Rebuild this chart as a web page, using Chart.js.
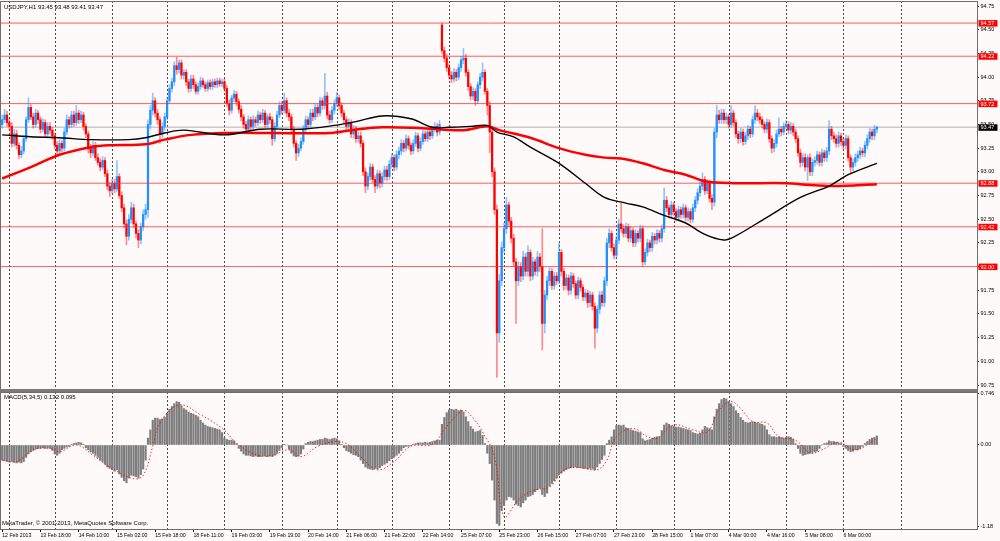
<!DOCTYPE html>
<html>
<head>
<meta charset="utf-8">
<title>USDJPY,H1</title>
<script src="https://cdn.jsdelivr.net/npm/chart.js@4.4.1/dist/chart.umd.min.js"></script>
<style>
  html, body { margin: 0; padding: 0; background: #fffafa; }
  #wrap { position: relative; width: 1000px; height: 541px; overflow: hidden; font-family: "Liberation Sans", Arial, sans-serif; }
  #priceBox { position: absolute; left: 0; top: 0; width: 1000px; height: 391px; }
  #macdBox { position: absolute; left: 0; top: 391px; width: 1000px; height: 150px; }
  .cap { position: absolute; font-size: 6px; color: #000; white-space: nowrap; line-height: 1; }
</style>
</head>
<body>
<div id="wrap">
  <div id="priceBox"><canvas id="priceChart"></canvas></div>
  <div id="macdBox"><canvas id="macdChart"></canvas></div>
  <div class="cap" style="left:4px; top:4px">USDJPY,H1 93.45 93.48 93.41 93.47</div>
  <div class="cap" style="left:4px; top:394px">MACD(5,34,5) 0.132 0.095</div>
  <div class="cap" style="left:2px; top:520px">MetaTrader, © 2001-2013, MetaQuotes Software Corp.</div>
</div>
<script>
// H1 bars, one value per bar (index 0 = first bar on screen)
const opens = [
  93.50, 93.55, 93.60, 93.52, 93.48, 93.30, 93.40, 93.28, 93.18, 93.22,
  93.35, 93.55, 93.68, 93.58, 93.50, 93.62, 93.55, 93.45, 93.52, 93.40,
  93.48, 93.44, 93.38, 93.28, 93.22, 93.30, 93.25, 93.42, 93.55, 93.50,
  93.60, 93.52, 93.62, 93.55, 93.60, 93.48, 93.40, 93.25, 93.20, 93.28,
  93.15, 93.10, 93.05, 93.12, 92.98, 92.85, 92.80, 92.88, 92.82, 92.95,
  92.75, 92.62, 92.45, 92.32, 92.50, 92.62, 92.45, 92.35, 92.28, 92.42,
  92.55, 92.60, 93.50, 93.65, 93.75, 93.62, 93.55, 93.40, 93.48, 93.58,
  93.75, 93.88, 93.95, 94.12, 94.08, 94.15, 94.02, 94.05, 93.95, 93.88,
  93.98, 93.92, 93.85, 93.90, 93.96, 93.92, 93.88, 93.94, 93.90, 93.95,
  93.92, 93.96, 93.93, 93.95, 93.88, 93.72, 93.65, 93.78, 93.82, 93.74,
  93.66, 93.58, 93.50, 93.45, 93.55, 93.48, 93.55, 93.52, 93.60, 93.55,
  93.62, 93.50, 93.58, 93.55, 93.35, 93.48, 93.60, 93.70, 93.65, 93.75,
  93.62, 93.58, 93.45, 93.30, 93.20, 93.25, 93.32, 93.45, 93.55, 93.50,
  93.62, 93.58, 93.68, 93.62, 93.75, 93.70, 93.80, 93.60, 93.55, 93.65,
  93.72, 93.78, 93.70, 93.62, 93.55, 93.48, 93.52, 93.40, 93.45, 93.35,
  93.38, 93.30, 93.00, 92.85, 92.95, 93.05, 92.92, 92.85, 92.98, 92.88,
  92.95, 93.02, 92.95, 93.08, 93.15, 93.05, 93.18, 93.22, 93.30, 93.25,
  93.35, 93.28, 93.22, 93.30, 93.38, 93.25, 93.32, 93.40, 93.35, 93.42,
  93.38, 93.45, 93.48, 93.42, 94.55, 94.28, 94.20, 94.10, 94.02, 93.98,
  94.05, 94.00, 94.10, 94.18, 94.20, 94.05, 93.90, 93.80, 93.85, 93.75,
  93.92, 94.00, 94.05, 93.85, 93.70, 93.42, 93.00, 92.60, 91.30, 91.85,
  92.20, 92.40, 92.65, 92.48, 92.30, 92.05, 91.85, 92.00, 91.90, 92.10,
  91.95, 92.15, 91.90, 92.05, 91.95, 92.10, 92.00, 91.40, 91.70, 91.85,
  91.95, 91.80, 91.90, 91.85, 92.15, 91.95, 91.80, 91.88, 91.75, 91.90,
  91.82, 91.70, 91.85, 91.78, 91.68, 91.72, 91.62, 91.70, 91.58, 91.35,
  91.55, 91.70, 91.62, 91.85, 92.25, 92.35, 92.20, 92.12, 92.28, 92.45,
  92.40, 92.35, 92.42, 92.30, 92.38, 92.25, 92.35, 92.30, 92.40, 92.05,
  92.15, 92.25, 92.20, 92.32, 92.28, 92.35, 92.30, 92.40, 92.70, 92.62,
  92.55, 92.65, 92.58, 92.52, 92.60, 92.55, 92.62, 92.52, 92.58, 92.50,
  92.62, 92.70, 92.78, 92.85, 92.92, 92.80, 92.88, 92.72, 92.68, 93.42,
  93.60, 93.55, 93.62, 93.55, 93.58, 93.50, 93.62, 93.52, 93.40, 93.35,
  93.42, 93.32, 93.38, 93.45, 93.40, 93.55, 93.62, 93.58, 93.55, 93.50,
  93.45, 93.52, 93.35, 93.25, 93.30, 93.40, 93.45, 93.42, 93.48, 93.50,
  93.44, 93.48, 93.42, 93.35, 93.20, 93.10, 93.15, 93.05, 93.15, 93.00,
  93.10, 93.12, 93.18, 93.10, 93.20, 93.15, 93.22, 93.45, 93.38, 93.35,
  93.30, 93.38, 93.32, 93.28, 93.35, 93.15, 93.05, 93.10, 93.15, 93.18,
  93.22, 93.20, 93.28, 93.35, 93.42, 93.38, 93.45
];
const highs = [
  93.60, 93.66, 93.64, 93.56, 93.52, 93.45, 93.44, 93.31, 93.27, 93.38,
  93.58, 93.78, 93.71, 93.62, 93.66, 93.65, 93.58, 93.56, 93.55, 93.52,
  93.52, 93.47, 93.41, 93.32, 93.34, 93.33, 93.46, 93.60, 93.58, 93.64,
  93.64, 93.70, 93.65, 93.64, 93.63, 93.51, 93.43, 93.29, 93.32, 93.31,
  93.19, 93.14, 93.16, 93.15, 93.02, 92.89, 92.92, 92.92, 93.12, 92.98,
  92.79, 92.66, 92.49, 92.55, 92.68, 92.66, 92.48, 92.39, 92.46, 92.60,
  92.66, 93.55, 93.70, 93.83, 93.78, 93.66, 93.58, 93.52, 93.62, 93.78,
  93.92, 93.99, 94.16, 94.21, 94.18, 94.18, 94.08, 94.08, 93.98, 94.02,
  94.02, 93.95, 93.94, 94.00, 93.99, 93.95, 93.97, 93.97, 93.98, 93.98,
  93.99, 93.99, 93.98, 93.98, 93.91, 93.76, 93.81, 93.86, 93.85, 93.77,
  93.70, 93.61, 93.53, 93.59, 93.58, 93.59, 93.58, 93.64, 93.63, 93.66,
  93.65, 93.61, 93.62, 93.58, 93.52, 93.64, 93.74, 93.74, 93.83, 93.78,
  93.66, 93.61, 93.48, 93.33, 93.29, 93.36, 93.49, 93.59, 93.58, 93.66,
  93.66, 93.72, 93.71, 93.79, 93.78, 94.04, 93.84, 93.64, 93.69, 93.76,
  93.84, 93.81, 93.73, 93.65, 93.58, 93.56, 93.55, 93.49, 93.48, 93.42,
  93.42, 93.33, 93.04, 92.99, 93.09, 93.08, 92.96, 93.02, 93.01, 92.99,
  93.06, 93.06, 93.12, 93.19, 93.18, 93.22, 93.26, 93.34, 93.33, 93.39,
  93.38, 93.31, 93.34, 93.42, 93.41, 93.36, 93.44, 93.43, 93.46, 93.45,
  93.48, 93.52, 93.51, 93.54, 94.57, 94.32, 94.24, 94.14, 94.06, 94.09,
  94.08, 94.14, 94.22, 94.30, 94.24, 94.08, 93.93, 93.89, 93.88, 93.95,
  94.04, 94.15, 94.08, 93.88, 93.74, 93.45, 93.04, 92.65, 91.92, 92.26,
  92.46, 92.73, 92.68, 92.52, 92.34, 92.09, 92.05, 92.04, 92.16, 92.14,
  92.22, 92.18, 92.10, 92.08, 92.16, 92.14, 92.40, 91.75, 91.90, 91.99,
  91.98, 91.94, 91.94, 92.25, 92.18, 91.98, 91.92, 91.91, 91.94, 91.93,
  91.85, 91.89, 91.88, 91.81, 91.76, 91.75, 91.74, 91.73, 91.62, 91.59,
  91.74, 91.74, 91.89, 92.30, 92.40, 92.38, 92.24, 92.32, 92.50, 92.67,
  92.44, 92.46, 92.45, 92.42, 92.41, 92.39, 92.38, 92.44, 92.43, 92.19,
  92.29, 92.28, 92.36, 92.35, 92.39, 92.38, 92.44, 92.83, 92.74, 92.65,
  92.69, 92.68, 92.61, 92.64, 92.63, 92.66, 92.65, 92.62, 92.61, 92.66,
  92.74, 92.82, 92.89, 92.99, 92.95, 92.92, 92.91, 92.76, 93.46, 93.70,
  93.65, 93.66, 93.66, 93.62, 93.61, 93.70, 93.65, 93.55, 93.43, 93.46,
  93.45, 93.42, 93.49, 93.48, 93.59, 93.70, 93.66, 93.62, 93.58, 93.53,
  93.56, 93.55, 93.38, 93.34, 93.44, 93.57, 93.48, 93.52, 93.54, 93.53,
  93.52, 93.51, 93.45, 93.38, 93.24, 93.19, 93.19, 93.18, 93.19, 93.14,
  93.16, 93.22, 93.21, 93.24, 93.23, 93.26, 93.54, 93.48, 93.42, 93.39,
  93.42, 93.41, 93.35, 93.39, 93.38, 93.18, 93.14, 93.19, 93.22, 93.26,
  93.25, 93.32, 93.39, 93.46, 93.45, 93.49, 93.48
];
const lows = [
  93.46, 93.52, 93.48, 93.44, 93.26, 93.27, 93.24, 93.14, 93.15, 93.19,
  93.32, 93.52, 93.55, 93.46, 93.47, 93.51, 93.41, 93.42, 93.37, 93.36,
  93.40, 93.34, 93.24, 93.17, 93.19, 93.21, 93.22, 93.39, 93.46, 93.47,
  93.48, 93.49, 93.51, 93.52, 93.44, 93.36, 93.20, 93.15, 93.17, 93.12,
  93.07, 93.01, 93.02, 92.95, 92.81, 92.74, 92.77, 92.78, 92.79, 92.72,
  92.58, 92.41, 92.23, 92.28, 92.46, 92.41, 92.30, 92.20, 92.24, 92.38,
  92.50, 92.52, 93.45, 93.60, 93.58, 93.50, 93.30, 93.36, 93.44, 93.55,
  93.72, 93.84, 93.91, 94.03, 94.04, 93.98, 93.98, 93.91, 93.84, 93.85,
  93.88, 93.82, 93.82, 93.87, 93.89, 93.85, 93.85, 93.87, 93.87, 93.89,
  93.89, 93.90, 93.90, 93.85, 93.69, 93.60, 93.62, 93.74, 93.70, 93.62,
  93.54, 93.46, 93.40, 93.42, 93.44, 93.45, 93.48, 93.49, 93.51, 93.52,
  93.47, 93.47, 93.51, 93.28, 93.32, 93.45, 93.57, 93.61, 93.62, 93.58,
  93.54, 93.41, 93.26, 93.12, 93.16, 93.22, 93.29, 93.41, 93.46, 93.47,
  93.54, 93.55, 93.58, 93.59, 93.66, 93.66, 93.56, 93.51, 93.52, 93.61,
  93.69, 93.66, 93.58, 93.51, 93.44, 93.45, 93.36, 93.36, 93.31, 93.31,
  93.26, 92.96, 92.78, 92.81, 92.91, 92.88, 92.78, 92.82, 92.83, 92.84,
  92.91, 92.91, 92.92, 93.04, 93.01, 93.02, 93.14, 93.18, 93.21, 93.22,
  93.24, 93.18, 93.19, 93.27, 93.21, 93.22, 93.29, 93.32, 93.32, 93.34,
  93.35, 93.42, 93.38, 93.39, 94.25, 94.16, 94.06, 93.98, 93.94, 93.95,
  93.96, 93.97, 94.06, 94.14, 94.01, 93.86, 93.76, 93.76, 93.70, 93.72,
  93.88, 93.96, 93.82, 93.60, 93.20, 92.95, 92.55, 90.83, 91.20, 91.80,
  92.15, 92.35, 92.42, 92.25, 92.00, 91.40, 91.80, 91.84, 91.86, 91.90,
  91.90, 91.85, 91.86, 91.91, 91.90, 91.95, 91.12, 91.30, 91.65, 91.80,
  91.76, 91.76, 91.81, 91.82, 91.90, 91.75, 91.76, 91.70, 91.71, 91.78,
  91.66, 91.66, 91.74, 91.64, 91.64, 91.57, 91.58, 91.54, 91.14, 91.30,
  91.50, 91.58, 91.58, 91.80, 92.20, 92.16, 92.08, 92.08, 92.24, 92.36,
  92.31, 92.31, 92.26, 92.26, 92.21, 92.21, 92.26, 92.26, 92.00, 92.02,
  92.11, 92.16, 92.16, 92.24, 92.24, 92.26, 92.26, 92.36, 92.58, 92.51,
  92.51, 92.54, 92.48, 92.48, 92.51, 92.51, 92.48, 92.48, 92.46, 92.47,
  92.58, 92.66, 92.74, 92.81, 92.76, 92.77, 92.68, 92.60, 92.64, 93.36,
  93.51, 93.51, 93.51, 93.51, 93.46, 93.47, 93.48, 93.36, 93.30, 93.31,
  93.28, 93.29, 93.34, 93.36, 93.37, 93.51, 93.54, 93.51, 93.46, 93.41,
  93.41, 93.31, 93.20, 93.21, 93.26, 93.37, 93.38, 93.39, 93.45, 93.40,
  93.40, 93.38, 93.31, 93.16, 93.05, 93.06, 93.01, 92.91, 92.96, 92.96,
  93.06, 93.08, 93.06, 93.06, 93.11, 93.11, 93.18, 93.34, 93.31, 93.26,
  93.26, 93.28, 93.24, 93.24, 93.11, 92.99, 93.01, 93.06, 93.11, 93.14,
  93.16, 93.16, 93.24, 93.31, 93.34, 93.34, 93.41
];
const closes = [
  93.55, 93.60, 93.52, 93.48, 93.30, 93.40, 93.28, 93.18, 93.22, 93.35,
  93.55, 93.68, 93.58, 93.50, 93.62, 93.55, 93.45, 93.52, 93.40, 93.48,
  93.44, 93.38, 93.28, 93.22, 93.30, 93.25, 93.42, 93.55, 93.50, 93.60,
  93.52, 93.62, 93.55, 93.60, 93.48, 93.40, 93.25, 93.20, 93.28, 93.15,
  93.10, 93.05, 93.12, 92.98, 92.85, 92.80, 92.88, 92.82, 92.95, 92.75,
  92.62, 92.45, 92.32, 92.50, 92.62, 92.45, 92.35, 92.28, 92.42, 92.55,
  92.60, 93.50, 93.65, 93.75, 93.62, 93.55, 93.40, 93.48, 93.58, 93.75,
  93.88, 93.95, 94.12, 94.08, 94.15, 94.02, 94.05, 93.95, 93.88, 93.98,
  93.92, 93.85, 93.90, 93.96, 93.92, 93.88, 93.94, 93.90, 93.95, 93.92,
  93.96, 93.93, 93.95, 93.88, 93.72, 93.65, 93.78, 93.82, 93.74, 93.66,
  93.58, 93.50, 93.45, 93.55, 93.48, 93.55, 93.52, 93.60, 93.55, 93.62,
  93.50, 93.58, 93.55, 93.35, 93.48, 93.60, 93.70, 93.65, 93.75, 93.62,
  93.58, 93.45, 93.30, 93.20, 93.25, 93.32, 93.45, 93.55, 93.50, 93.62,
  93.58, 93.68, 93.62, 93.75, 93.70, 93.80, 93.60, 93.55, 93.65, 93.72,
  93.78, 93.70, 93.62, 93.55, 93.48, 93.52, 93.40, 93.45, 93.35, 93.38,
  93.30, 93.00, 92.85, 92.95, 93.05, 92.92, 92.85, 92.98, 92.88, 92.95,
  93.02, 92.95, 93.08, 93.15, 93.05, 93.18, 93.22, 93.30, 93.25, 93.35,
  93.28, 93.22, 93.30, 93.38, 93.25, 93.32, 93.40, 93.35, 93.42, 93.38,
  93.45, 93.48, 93.42, 93.50, 94.28, 94.20, 94.10, 94.02, 93.98, 94.05,
  94.00, 94.10, 94.18, 94.20, 94.05, 93.90, 93.80, 93.85, 93.75, 93.92,
  94.00, 94.05, 93.85, 93.70, 93.42, 93.00, 92.60, 91.30, 91.85, 92.20,
  92.40, 92.65, 92.48, 92.30, 92.05, 91.85, 92.00, 91.90, 92.10, 91.95,
  92.15, 91.90, 92.05, 91.95, 92.10, 92.00, 91.40, 91.70, 91.85, 91.95,
  91.80, 91.90, 91.85, 92.15, 91.95, 91.80, 91.88, 91.75, 91.90, 91.82,
  91.70, 91.85, 91.78, 91.68, 91.72, 91.62, 91.70, 91.58, 91.35, 91.55,
  91.70, 91.62, 91.85, 92.25, 92.35, 92.20, 92.12, 92.28, 92.45, 92.40,
  92.35, 92.42, 92.30, 92.38, 92.25, 92.35, 92.30, 92.40, 92.05, 92.15,
  92.25, 92.20, 92.32, 92.28, 92.35, 92.30, 92.40, 92.70, 92.62, 92.55,
  92.65, 92.58, 92.52, 92.60, 92.55, 92.62, 92.52, 92.58, 92.50, 92.62,
  92.70, 92.78, 92.85, 92.92, 92.80, 92.88, 92.72, 92.68, 93.42, 93.60,
  93.55, 93.62, 93.55, 93.58, 93.50, 93.62, 93.52, 93.40, 93.35, 93.42,
  93.32, 93.38, 93.45, 93.40, 93.55, 93.62, 93.58, 93.55, 93.50, 93.45,
  93.52, 93.35, 93.25, 93.30, 93.40, 93.45, 93.42, 93.48, 93.50, 93.44,
  93.48, 93.42, 93.35, 93.20, 93.10, 93.15, 93.05, 93.15, 93.00, 93.10,
  93.12, 93.18, 93.10, 93.20, 93.15, 93.22, 93.45, 93.38, 93.35, 93.30,
  93.38, 93.32, 93.28, 93.35, 93.15, 93.05, 93.10, 93.15, 93.18, 93.22,
  93.20, 93.28, 93.35, 93.42, 93.38, 93.45, 93.47
];

// moving averages, read at sample bars
const maBlackBars = [0, 12, 24, 37, 53, 60, 68, 76, 93, 108, 125, 139, 148, 159, 171, 180, 187, 196, 203, 207, 214, 221, 233, 244, 252, 261, 268, 277, 286, 294, 302, 306, 320, 334, 346, 354, 366];
const maBlackVals = [93.39, 93.37, 93.36, 93.34, 93.34, 93.36, 93.41, 93.44, 93.39, 93.45, 93.45, 93.49, 93.53, 93.59, 93.56, 93.47, 93.47, 93.48, 93.49, 93.42, 93.37, 93.26, 93.09, 92.88, 92.73, 92.67, 92.63, 92.54, 92.46, 92.34, 92.28, 92.31, 92.52, 92.73, 92.85, 92.97, 93.09];
const maRedBars = [0, 12, 24, 37, 45, 60, 68, 79, 95, 112, 137, 146, 159, 176, 193, 203, 208, 221, 233, 244, 252, 259, 268, 277, 286, 294, 306, 328, 338, 348, 366];
const maRedVals = [92.93, 93.05, 93.18, 93.26, 93.28, 93.29, 93.34, 93.39, 93.41, 93.41, 93.41, 93.44, 93.47, 93.46, 93.44, 93.48, 93.44, 93.36, 93.25, 93.18, 93.15, 93.14, 93.09, 93.02, 92.97, 92.90, 92.88, 92.88, 92.86, 92.85, 92.87];

// horizontal levels and last price
const levels = [94.57, 94.22, 93.72, 92.88, 92.42, 92.00];
const lastPrice = 93.47;

// MACD(5,34,5) histogram per bar
const macd = [
  -0.22, -0.23, -0.24, -0.25, -0.24, -0.25, -0.26, -0.25, -0.26, -0.24,
  -0.18, -0.13, -0.10, -0.08, -0.06, -0.05, -0.05, -0.04, -0.05, -0.04,
  -0.05, -0.08, -0.13, -0.15, -0.12, -0.07, -0.05, -0.03, -0.02, 0.01,
  0.02, 0.03, 0.04, 0.03, 0.01, -0.04, -0.07, -0.10, -0.12, -0.15,
  -0.18, -0.22, -0.24, -0.28, -0.32, -0.34, -0.36, -0.38, -0.36, -0.42,
  -0.47, -0.52, -0.55, -0.48, -0.44, -0.45, -0.46, -0.48, -0.43, -0.35,
  -0.22, 0.10, 0.22, 0.36, 0.39, 0.39, 0.37, 0.38, 0.40, 0.46,
  0.52, 0.56, 0.60, 0.63, 0.62, 0.57, 0.53, 0.51, 0.48, 0.46,
  0.45, 0.43, 0.41, 0.36, 0.32, 0.29, 0.27, 0.26, 0.25, 0.24,
  0.23, 0.22, 0.18, 0.10, 0.08, 0.07, 0.07, 0.06, 0.02, -0.05,
  -0.09, -0.13, -0.15, -0.15, -0.16, -0.17, -0.16, -0.17, -0.17, -0.16,
  -0.16, -0.17, -0.16, -0.17, -0.15, -0.12, -0.08, -0.04, 0.01, 0.00,
  -0.06, -0.12, -0.16, -0.17, -0.16, -0.13, -0.06, 0.02, 0.04, 0.05,
  0.05, 0.06, 0.07, 0.08, 0.08, 0.10, 0.09, 0.08, 0.09, 0.10,
  0.09, 0.06, 0.01, -0.04, -0.08, -0.10, -0.12, -0.14, -0.15, -0.17,
  -0.22, -0.27, -0.32, -0.34, -0.35, -0.36, -0.34, -0.35, -0.33, -0.30,
  -0.28, -0.26, -0.23, -0.20, -0.18, -0.15, -0.12, -0.08, -0.04, -0.02,
  -0.02, -0.01, 0.01, 0.02, 0.03, 0.03, 0.03, 0.04, 0.03, 0.04,
  0.05, 0.06, 0.07, 0.07, 0.30, 0.40, 0.47, 0.51, 0.52, 0.51,
  0.52, 0.50, 0.51, 0.48, 0.41, 0.34, 0.27, 0.23, 0.19, 0.20,
  0.21, 0.14, 0.02, -0.12, -0.27, -0.51, -0.80, -1.14, -1.17, -0.95,
  -0.88, -0.80, -0.75, -0.76, -0.80, -0.86, -0.88, -0.90, -0.84, -0.80,
  -0.75, -0.74, -0.72, -0.68, -0.65, -0.63, -0.72, -0.75, -0.70, -0.60,
  -0.56, -0.52, -0.48, -0.43, -0.41, -0.38, -0.36, -0.34, -0.33, -0.32,
  -0.32, -0.33, -0.33, -0.34, -0.34, -0.35, -0.34, -0.35, -0.36, -0.32,
  -0.27, -0.21, -0.15, 0.02, 0.07, 0.12, 0.22, 0.28, 0.29, 0.28,
  0.29, 0.25, 0.24, 0.22, 0.21, 0.20, 0.19, 0.18, 0.09, 0.06,
  0.07, 0.08, 0.10, 0.11, 0.12, 0.12, 0.21, 0.29, 0.32, 0.30,
  0.28, 0.27, 0.26, 0.26, 0.25, 0.24, 0.23, 0.22, 0.21, 0.18,
  0.17, 0.16, 0.17, 0.22, 0.27, 0.25, 0.24, 0.22, 0.41, 0.52,
  0.60, 0.66, 0.68, 0.67, 0.63, 0.60, 0.56, 0.50, 0.46, 0.40,
  0.36, 0.33, 0.32, 0.33, 0.34, 0.33, 0.32, 0.31, 0.30, 0.28,
  0.22, 0.15, 0.12, 0.12, 0.11, 0.12, 0.11, 0.10, 0.11, 0.12,
  0.11, 0.08, 0.02, -0.05, -0.12, -0.15, -0.14, -0.13, -0.12, -0.11,
  -0.10, -0.09, -0.05, 0.00, 0.02, 0.03, 0.06, 0.05, 0.05, 0.04,
  0.03, 0.02, -0.02, -0.05, -0.08, -0.10, -0.09, -0.07, -0.07, -0.05,
  -0.02, 0.02, 0.05, 0.08, 0.10, 0.11, 0.132
];
// MACD signal line, read at sample bars
const signalBars = [0, 6, 13, 20, 24, 31, 38, 45, 55, 59, 63, 66, 74, 83, 92, 99, 107, 113, 120, 125, 132, 139, 144, 150, 157, 164, 171, 180, 186, 193, 197, 201, 206, 210, 216, 222, 229, 235, 242, 249, 253, 257, 264, 270, 274, 281, 289, 295, 300, 305, 309, 314, 320, 325, 332, 338, 343, 350, 357, 366];
const signalVals = [-0.22, -0.24, -0.07, -0.05, -0.10, 0.00, -0.15, -0.32, -0.49, -0.44, -0.02, 0.32, 0.58, 0.44, 0.24, 0.00, -0.15, -0.15, -0.07, -0.17, -0.02, 0.05, 0.02, -0.17, -0.36, -0.24, -0.02, 0.01, 0.27, 0.50, 0.39, 0.19, -0.17, -1.04, -0.80, -0.66, -0.61, -0.36, -0.33, -0.36, -0.22, 0.12, 0.24, 0.12, 0.10, 0.29, 0.22, 0.19, 0.51, 0.63, 0.53, 0.34, 0.32, 0.12, 0.07, -0.12, -0.07, 0.04, -0.07, 0.095];

// axes
const priceTicks = [90.75, 91.00, 91.25, 91.50, 91.75, 92.00, 92.25, 92.50, 92.75, 93.00, 93.25, 93.50, 93.75, 94.00, 94.25, 94.50, 94.75];
const macdTicks = [-1.18, 0, 0.746];
const timeBars = [0, 16, 32, 48, 64, 80, 96, 112, 128, 144, 160, 176, 192, 208, 224, 240, 256, 272, 288, 304, 320, 336, 352];
const timeLabels = ['12 Feb 2013', '13 Feb 18:00', '14 Feb 10:00', '15 Feb 02:00', '15 Feb 18:00', '18 Feb 11:00', '19 Feb 03:00', '19 Feb 19:00', '20 Feb 14:00', '21 Feb 06:00', '21 Feb 22:00', '22 Feb 14:00', '25 Feb 07:00', '25 Feb 23:00', '26 Feb 15:00', '27 Feb 07:00', '27 Feb 23:00', '28 Feb 15:00', '1 Mar 07:00', '4 Mar 00:00', '4 Mar 16:00', '5 Mar 08:00', '6 Mar 00:00'];
const dayStarts = [3, 22, 46, 69, 93, 117, 140, 163, 187, 210, 233, 257, 281, 304, 328, 352, 376];

const xMin = -0.92, xMax = 407.9;
const priceMin = 90.708, priceMax = 94.803;
const macdMin = -1.221, macdMax = 0.770;

const FONT = 'Liberation Sans';
const BLUE = '#1e90ff', BLUE_W = 'rgba(30,144,255,0.5)';
const RED = '#ff0000', RED_W = 'rgba(255,0,0,0.45)';

const isUp = (i) => closes[i] >= opens[i];

// dotted vertical lines at each day start
const dayLinesPlugin = {
  id: 'dayLines',
  beforeDatasetsDraw(chart) {
    const { ctx, chartArea, scales } = chart;
    ctx.save();
    ctx.strokeStyle = 'rgba(30,30,30,0.8)';
    ctx.lineWidth = 1;
    ctx.setLineDash([2, 2]);
    dayStarts.forEach(i => {
      const x = Math.round(scales.x.getPixelForValue(i)) + 0.5;
      if (x < chartArea.left || x > chartArea.right) return;
      ctx.beginPath();
      ctx.moveTo(x, chartArea.top);
      ctx.lineTo(x, chartArea.bottom);
      ctx.stroke();
    });
    ctx.restore();
  }
};

// panel frame
const framePlugin = {
  id: 'frame',
  afterDraw(chart, args, opts) {
    const { ctx, chartArea } = chart;
    ctx.save();
    ctx.strokeStyle = '#6e6e6e';
    ctx.lineWidth = 1;
    ctx.strokeRect(chartArea.left + 0.5, chartArea.top + 0.5, chartArea.right - chartArea.left, chartArea.bottom - chartArea.top);
    ctx.fillStyle = '#7a7a7a';
    if (opts.sepBottom) ctx.fillRect(0, chartArea.bottom, chartArea.right + 1, chart.height - chartArea.bottom);
    if (opts.sepTop) ctx.fillRect(0, 0, chartArea.right + 1, chartArea.top);
    ctx.restore();
  }
};

// price tags on the right axis
const levelTagsPlugin = {
  id: 'levelTags',
  afterDraw(chart) {
    const { ctx, scales } = chart;
    const y = scales.y;
    ctx.save();
    ctx.font = '5.5px "' + FONT + '"';
    ctx.textBaseline = 'middle';
    const tag = (v, bg) => {
      const py = y.getPixelForValue(v);
      ctx.fillStyle = bg;
      ctx.fillRect(y.left + 1.5, py - 3, 19, 6.5);
      ctx.fillStyle = '#ffffff';
      ctx.fillText(v.toFixed(2), y.left + 3.5, py + 0.5);
    };
    levels.forEach(v => tag(v, RED));
    tag(lastPrice, '#000000');
    ctx.restore();
  }
};

const flatLine = (v, color, width, order) => ({
  type: 'line',
  data: [{ x: xMin, y: v }, { x: xMax, y: v }],
  borderColor: color,
  borderWidth: width,
  pointRadius: 0,
  order: order
});

new Chart(document.getElementById('priceChart'), {
  type: 'bar',
  data: {
    datasets: [
      {
        label: 'wick',
        data: closes.map((c, i) => ({ x: i, y: [lows[i], highs[i]] })),
        backgroundColor: (ctx) => isUp(ctx.dataIndex) ? BLUE_W : RED_W,
        barThickness: 1,
        grouped: false,
        order: 8
      },
      {
        label: 'body',
        data: closes.map((c, i) => ({ x: i, y: [opens[i], c] })),
        backgroundColor: (ctx) => isUp(ctx.dataIndex) ? BLUE : RED,
        barThickness: 1.6,
        minBarLength: 1,
        grouped: false,
        order: 7
      },
      flatLine(lastPrice, 'rgba(170,170,170,0.6)', 1.5, 9),
      ...levels.map(v => flatLine(v, 'rgba(255,40,40,0.75)', 1, 5)),
      {
        type: 'line',
        label: 'MA red',
        data: maRedBars.map((b, k) => ({ x: b, y: maRedVals[k] })),
        borderColor: '#ff0000',
        borderWidth: 2.5,
        pointRadius: 0,
        tension: 0.35,
        order: 2
      },
      {
        type: 'line',
        label: 'MA black',
        data: maBlackBars.map((b, k) => ({ x: b, y: maBlackVals[k] })),
        borderColor: '#000000',
        borderWidth: 1.4,
        pointRadius: 0,
        tension: 0.35,
        order: 1
      }
    ]
  },
  options: {
    responsive: true,
    maintainAspectRatio: false,
    animation: false,
    layout: { padding: { top: 1, bottom: 2, left: 0, right: 0 } },
    plugins: {
      legend: { display: false },
      tooltip: { enabled: false },
      frame: { sepBottom: true }
    },
    scales: {
      x: { type: 'linear', min: xMin, max: xMax, offset: false, display: false, grid: { display: false } },
      y: {
        position: 'right',
        min: priceMin,
        max: priceMax,
        grid: { drawOnChartArea: false, drawTicks: true, tickLength: 2, color: '#000' },
        border: { color: '#555', width: 1 },
        ticks: {
          font: { family: FONT, size: 5.5 },
          color: '#000',
          padding: 1.5,
          callback: (v) => v.toFixed(2)
        },
        afterBuildTicks: (s) => { s.ticks = priceTicks.map(v => ({ value: v })); },
        afterFit: (s) => { s.width = 23; s.paddingTop = 0; s.paddingBottom = 0; }
      }
    }
  },
  plugins: [dayLinesPlugin, framePlugin, levelTagsPlugin]
});

new Chart(document.getElementById('macdChart'), {
  type: 'bar',
  data: {
    datasets: [
      {
        label: 'MACD',
        data: macd.map((v, i) => ({ x: i, y: v })),
        backgroundColor: '#7d7d7d',
        barThickness: 1.5,
        grouped: false,
        order: 2
      },
      {
        type: 'line',
        label: 'Signal',
        data: signalBars.map((b, k) => ({ x: b, y: signalVals[k] })),
        borderColor: 'rgba(255,0,0,0.85)',
        borderWidth: 1,
        borderDash: [1.5, 2],
        pointRadius: 0,
        tension: 0.4,
        order: 1
      }
    ]
  },
  options: {
    responsive: true,
    maintainAspectRatio: false,
    animation: false,
    layout: { padding: { top: 1, bottom: 0, left: 0, right: 0 } },
    plugins: {
      legend: { display: false },
      tooltip: { enabled: false },
      frame: { sepTop: true }
    },
    scales: {
      x: {
        type: 'linear',
        min: xMin,
        max: xMax,
        offset: false,
        grid: { drawOnChartArea: false, drawTicks: true, tickLength: 3, color: '#000', offset: false },
        border: { color: '#555' },
        ticks: {
          font: { family: FONT, size: 5.2 },
          color: '#000',
          autoSkip: false,
          maxRotation: 0,
          align: 'start',
          padding: 0,
          callback: (v) => timeLabels[timeBars.indexOf(v)]
        },
        afterBuildTicks: (s) => { s.ticks = timeBars.map(v => ({ value: v })); },
        afterFit: (s) => { s.height = 12; s.paddingLeft = 0; s.paddingRight = 0; }
      },
      y: {
        position: 'right',
        min: macdMin,
        max: macdMax,
        grid: { drawOnChartArea: false, drawTicks: true, tickLength: 2, color: '#000' },
        border: { color: '#555', width: 1 },
        ticks: {
          font: { family: FONT, size: 5.5 },
          color: '#000',
          padding: 1.5,
          callback: (v) => v === 0.746 ? '0.746' : v.toFixed(2)
        },
        afterBuildTicks: (s) => { s.ticks = macdTicks.map(v => ({ value: v })); },
        afterFit: (s) => { s.width = 23; s.paddingTop = 0; s.paddingBottom = 0; }
      }
    }
  },
  plugins: [dayLinesPlugin, framePlugin]
});
</script>
</body>
</html>
